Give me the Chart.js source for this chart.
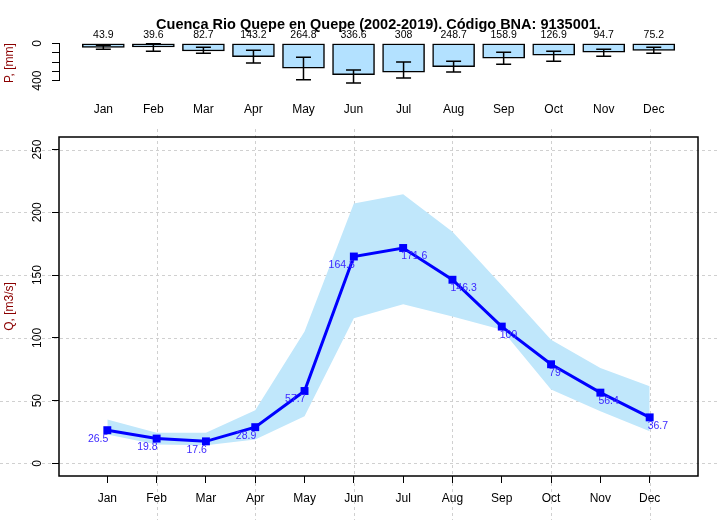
<!DOCTYPE html>
<html><head><meta charset="utf-8">
<script src="https://cdn.jsdelivr.net/npm/chart.js@4.4.1/dist/chart.umd.min.js"></script>
<style>
html,body{margin:0;padding:0;background:#fff;width:720px;height:520px;overflow:hidden}
#top{position:absolute;left:0;top:0}
#bot{position:absolute;left:0;top:120px}
</style></head><body>
<canvas id="top" width="720" height="120"></canvas>
<canvas id="bot" width="720" height="400"></canvas>
<script>
const titleText = 'Cuenca Rio Quepe en Quepe (2002-2019). Código BNA: 9135001.';
const months = ['Jan','Feb','Mar','Apr','May','Jun','Jul','Aug','Sep','Oct','Nov','Dec'];
const precip = [43.9,39.6,82.7,143.2,264.8,336.6,308,248.7,158.9,126.9,94.7,75.2];
const precipLow = [21,4,42,74,148,286,201,191,95,85,64,42];
const precipHigh = [64,85,106,212,389,424,371,308,223,191,138,106];
const precipTicks = [0,100,200,300,400];
const precipTickLabels = ['0','','','','400'];
const flow = [26.5,19.8,17.6,28.9,57.7,164.8,171.6,146.3,109,79,56.4,36.7];
const flowUpper = [35,24.4,24.4,42.4,105,207,214.5,184.5,142,98.5,76,61.4];
const flowLower = [23,15.1,14.5,19,37.6,115.7,126.8,117,106.4,58.8,41.5,25.7];
const flowTicks = [0,50,100,150,200,250];
const flowGridX = [2,4,6,8,10,12];

const FAM = '"Liberation Sans", Arial, sans-serif';
Chart.defaults.font.family = FAM;
Chart.defaults.color = '#000';
const BAR = '#B3E1FF';
const BAND = '#C0E7FB';
const AXT = '#8b0000';

function rotText(ctx, text, x, y, size, color){
  ctx.save();
  ctx.translate(x, y);
  ctx.rotate(-Math.PI/2);
  ctx.font = size + 'px ' + FAM;
  ctx.fillStyle = color;
  ctx.textAlign = 'center';
  ctx.textBaseline = 'middle';
  ctx.fillText(text, 0, 0);
  ctx.restore();
}
const pts = arr => arr.map((v,i)=>({x:i+1, y:v}));

const topPlugin = {
  id:'topExtras',
  afterDatasetsDraw(chart){
    const ctx = chart.ctx, xs = chart.scales.x, ys = chart.scales.y;
    ctx.save();
    ctx.strokeStyle = '#000'; ctx.lineWidth = 1.5;
    precip.forEach((v,i)=>{
      const x = xs.getPixelForValue(i+1);
      const y1 = ys.getPixelForValue(precipLow[i]);
      const y2 = ys.getPixelForValue(precipHigh[i]);
      ctx.beginPath();
      ctx.moveTo(x, y1); ctx.lineTo(x, y2);
      ctx.moveTo(x-7.5, y1); ctx.lineTo(x+7.5, y1);
      ctx.moveTo(x-7.5, y2); ctx.lineTo(x+7.5, y2);
      ctx.stroke();
    });
    ctx.font = '10.5px ' + FAM;
    ctx.fillStyle = '#000';
    ctx.textAlign = 'center'; ctx.textBaseline = 'middle';
    precip.forEach((v,i)=>{
      ctx.fillText(String(v), xs.getPixelForValue(i+1), 35);
    });
    ctx.restore();
    precipTicks.forEach((t,i)=>{
      if (precipTickLabels[i]) rotText(ctx, precipTickLabels[i], 37.5, ys.getPixelForValue(t), 12, '#000');
    });
    rotText(ctx, 'P, [mm]', 9.5, 63, 12, AXT);
  }
};

new Chart(document.getElementById('top'), {
  type:'bar',
  data:{datasets:[{
    data: pts(precip),
    backgroundColor: BAR, borderColor:'#000', borderWidth:1.5, borderSkipped:false, barThickness:42
  }]},
  options:{
    responsive:false, animation:false, devicePixelRatio:1,
    layout:{padding:{left:0,right:22,top:0,bottom:0}},
    plugins:{
      legend:{display:false}, tooltip:{enabled:false},
      title:{display:true, text:titleText, fullSize:false, color:'#000',
        font:{size:14.5, weight:'bold', family:FAM}, padding:{top:16, bottom:9.9}}
    },
    scales:{
      x:{type:'linear', offset:false, min:0.114, max:12.884,
        afterBuildTicks:s=>{ s.ticks = months.map((m,i)=>({value:i+1})); },
        ticks:{callback:v=>months[v-1], font:{size:12}, color:'#000', padding:21.3, maxRotation:0, autoSkip:false},
        grid:{display:false, drawTicks:false, offset:false}, border:{display:false},
        afterFit:s=>{ s.height = 39.3; }},
      y:{type:'linear', reverse:true, min:0, max:400,
        afterBuildTicks:s=>{ s.ticks = precipTicks.map(v=>({value:v})); },
        ticks:{display:false},
        grid:{drawOnChartArea:false, drawTicks:true, tickLength:7, color:'#000', lineWidth:1},
        border:{display:true, color:'#000', width:1},
        afterFit:s=>{ s.width = 59; }}
    }
  },
  plugins:[topPlugin]
});

const botPlugin = {
  id:'botExtras',
  beforeDraw(chart){
    const ctx = chart.ctx, xs = chart.scales.x, ys = chart.scales.y;
    ctx.save();
    ctx.strokeStyle = '#d0d0d0'; ctx.lineWidth = 1; ctx.setLineDash([3,3]);
    flowTicks.forEach(t=>{
      const y = Math.round(ys.getPixelForValue(t)) + 0.5;
      ctx.beginPath(); ctx.moveTo(0, y); ctx.lineTo(720, y); ctx.stroke();
    });
    flowGridX.forEach(t=>{
      const x = Math.round(xs.getPixelForValue(t)) + 0.5;
      ctx.beginPath(); ctx.moveTo(x, 9); ctx.lineTo(x, 400); ctx.stroke();
    });
    ctx.restore();
  },
  afterDatasetsDraw(chart){
    const ctx = chart.ctx, xs = chart.scales.x, ys = chart.scales.y, a = chart.chartArea;
    ctx.save();
    ctx.strokeStyle = '#000'; ctx.lineWidth = 1.5;
    ctx.strokeRect(a.left, a.top, a.right - a.left, a.bottom - a.top);
    ctx.font = '10.5px ' + FAM;
    ctx.fillStyle = 'rgb(60,40,255)';
    ctx.textBaseline = 'middle';
    flow.forEach((v,i)=>{
      const x = xs.getPixelForValue(i+1), y = ys.getPixelForValue(v);
      if (i < 6) { ctx.textAlign = 'right'; ctx.fillText(String(v), x + 1, y + 8.5); }
      else { ctx.textAlign = 'left'; ctx.fillText(String(v), x - 2, y + 8.5); }
    });
    ctx.restore();
    flowTicks.forEach(t=> rotText(ctx, String(t), 37.5, ys.getPixelForValue(t), 12, '#000'));
    rotText(ctx, 'Q, [m3/s]', 10, (a.top + a.bottom)/2, 12, AXT);
  }
};

new Chart(document.getElementById('bot'), {
  type:'line',
  data:{datasets:[
    {data: pts(flow), borderColor:'#0000ff', borderWidth:3, pointStyle:'rect', pointRadius:5.6,
     pointBackgroundColor:'#0000ff', pointBorderWidth:0, fill:false, tension:0},
    {data: pts(flowUpper), borderColor:'rgba(0,0,0,0)', borderWidth:0, pointRadius:0, fill:'+1', backgroundColor:BAND, tension:0},
    {data: pts(flowLower), borderColor:'rgba(0,0,0,0)', borderWidth:0, pointRadius:0, fill:false, tension:0}
  ]},
  options:{
    responsive:false, animation:false, devicePixelRatio:1,
    layout:{padding:{left:0,right:22,top:17,bottom:0}},
    plugins:{legend:{display:false}, tooltip:{enabled:false}},
    scales:{
      x:{type:'linear', min:0.02, max:12.98,
        afterBuildTicks:s=>{ s.ticks = months.map((m,i)=>({value:i+1})); },
        ticks:{callback:v=>months[v-1], font:{size:12}, color:'#000', padding:8.3, maxRotation:0, autoSkip:false},
        grid:{drawOnChartArea:false, drawTicks:true, tickLength:7, color:'#000', lineWidth:1},
        border:{display:false},
        afterFit:s=>{ s.height = 44; }},
      y:{type:'linear', min:-10, max:260,
        afterBuildTicks:s=>{ s.ticks = flowTicks.map(v=>({value:v})); },
        ticks:{display:false},
        grid:{drawOnChartArea:false, drawTicks:true, tickLength:7, color:'#000', lineWidth:1},
        border:{display:false},
        afterFit:s=>{ s.width = 59; }}
    }
  },
  plugins:[botPlugin]
});
</script>
</body></html>
